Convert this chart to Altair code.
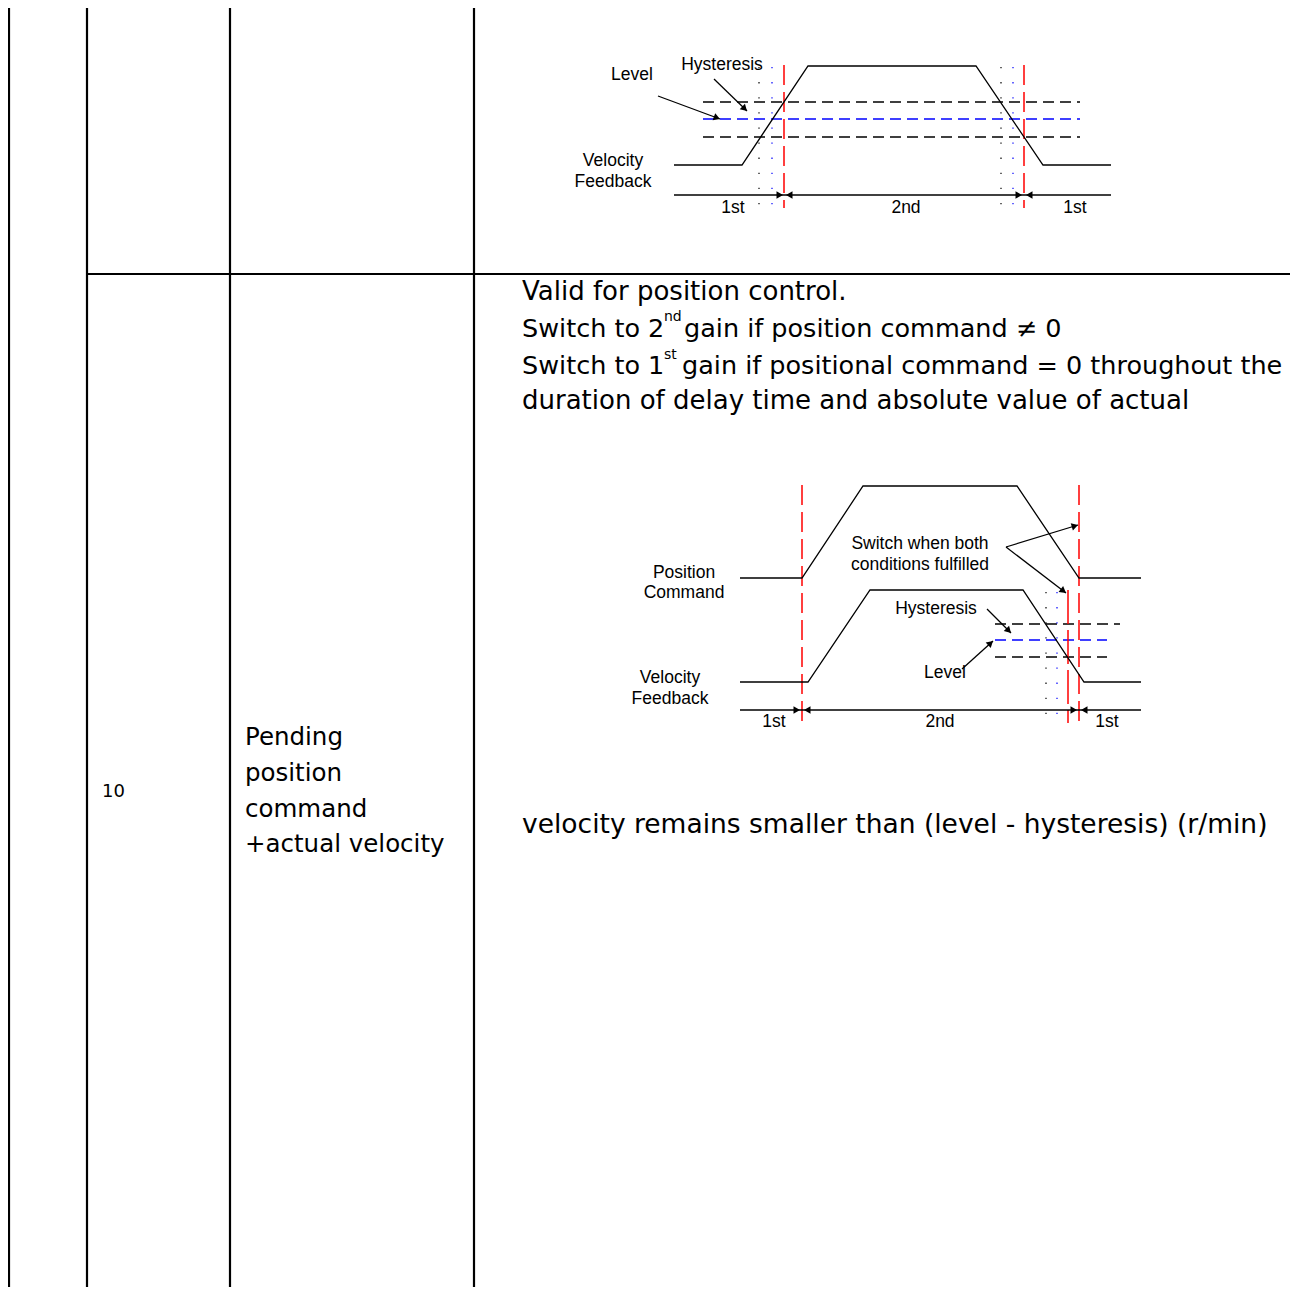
import math
import altair as alt
import pandas as pd

W, H = 1290, 1287   # visible page area (right/bottom) in page pixels
M = 8               # page margin

# ---------------- table grid ----------------
grid_x1 = [9, 87, 230, 474, 87, 87]
grid_y1 = [8, 7, 7, 7, 7, 274]
grid_x2 = [9, 87, 230, 474, 1290, 1290]
grid_y2 = [1287, 1287, 1287, 1287, 7, 274]

# ---------------- document text ----------------
doc_text = ["Valid for position control.",
            "Switch to 2", "nd", "gain if position command \u2260 0",
            "Switch to 1", "st", "gain if positional command = 0 throughout the",
            "duration of delay time and absolute value of actual",
            "velocity remains smaller than (level - hysteresis) (r/min)",
            "10", "Pending", "position", "command", "+actual velocity"]
doc_x = [522, 522, 664, 684, 522, 664, 682, 522, 522, 102, 245, 245, 245, 245]
doc_y = [300, 337, 321, 337, 374, 359, 374, 409, 833, 797, 745, 781, 817, 852]
doc_size = [26, 25.5, 14, 25.5, 25.5, 14, 25.5, 26, 26.5, 18, 24.5, 24.5, 24.5, 24.5]

# ---------------- diagram 1 (top cell) ----------------
d1_wave_x = [674, 742, 808, 976, 1043, 1111]
d1_wave_y = [165, 165, 66, 66, 165, 165]

# ---------------- diagram 2 (pending position command) ----------------
d2_pos_x = [740, 802, 863, 1017, 1079, 1141]
d2_pos_y = [578, 578, 486, 486, 578, 578]
d2_vel_x = [740, 808, 870, 1023, 1084, 1141]
d2_vel_y = [682, 682, 590, 590, 682, 682]

# solid thin segments (timelines + arrow shafts): x1, y1, x2, y2
solid_x1 = [674, 740, 658, 714, 1006, 1006, 987, 962]
solid_y1 = [195, 710, 96, 79, 547, 547, 609, 669]
solid_x2 = [1111, 1141, 720, 747, 1078, 1066, 1011, 993]
solid_y2 = [195, 710, 119, 111, 525, 593, 633, 641]

# dashed black horizontals
bdash_x1 = [703, 703, 995, 995]
bdash_y1 = [102, 137, 624, 657]
bdash_x2 = [1080, 1080, 1120, 1107]

# dashed blue horizontals (level)
udash_x1 = [703, 995]
udash_y1 = [119, 640]
udash_x2 = [1080, 1107]

# red dashed verticals
red_x = [784, 1024, 802, 1079]
red_y1 = [65, 65, 485, 485]
red_y2 = [208, 208, 727, 727]
# red long-dash vertical (velocity condition)
red2_x = [1068]
red2_y1 = [590]
red2_y2 = [723]

# dotted verticals (black, blue)
bdot_x = [759, 1001, 1046]
bdot_y1 = [67, 67, 592]
bdot_y2 = [208, 208, 723]
udot_x = [772, 1013, 1057]
udot_y1 = [67, 67, 592]
udot_y2 = [208, 208, 723]

# arrow heads: tip x, tip y, and the shaft start they point away from
head_tip_x = [783, 786, 1022, 1026, 800, 804, 1077, 1081, 720, 747, 1078, 1066, 1011, 993]
head_tip_y = [195, 195, 195, 195, 710, 710, 710, 710, 119, 111, 525, 593, 633, 641]
head_from_x = [674, 1111, 674, 1111, 740, 1141, 740, 1141, 658, 714, 1006, 1006, 987, 962]
head_from_y = [195, 195, 195, 195, 710, 710, 710, 710, 96, 79, 547, 547, 609, 669]

# diagram labels
lab_text = ["Level", "Hysteresis", "Velocity", "Feedback", "1st", "2nd", "1st",
            "Switch when both", "conditions fulfilled", "Hysteresis", "Level",
            "Position", "Command", "Velocity", "Feedback", "1st", "2nd", "1st"]
lab_x = [632, 722, 613, 613, 733, 906, 1075,
         920, 920, 936, 945, 684, 684, 670, 670, 774, 940, 1107]
lab_y = [75, 65, 161, 182, 208, 208, 208,
         544, 565, 609, 673, 573, 593, 678, 699, 722, 722, 722]

# ---------------- build layers ----------------
xs = alt.Scale(domain=[M, W], nice=False, zero=False)
ys = alt.Scale(domain=[M, H], nice=False, zero=False, reverse=True)


def seg_df(x1, y1, x2, y2):
    return pd.DataFrame({"x": x1, "y": y1, "x2": x2, "y2": y2})


def rules(df, color, width, dash=None):
    kw = dict(color=color, strokeWidth=width)
    if dash is not None:
        kw["strokeDash"] = dash
    return alt.Chart(df).mark_rule(**kw).encode(
        x=alt.X("x:Q", scale=xs, axis=None),
        y=alt.Y("y:Q", scale=ys, axis=None),
        x2="x2:Q",
        y2="y2:Q",
    )


grid = rules(seg_df(grid_x1, grid_y1, grid_x2, grid_y2), "black", 2.2)
solid = rules(seg_df(solid_x1, solid_y1, solid_x2, solid_y2), "black", 1.3)
bdash = rules(seg_df(bdash_x1, bdash_y1, bdash_x2, bdash_y1), "black", 1.3, [11, 6])
udash = rules(seg_df(udash_x1, udash_y1, udash_x2, udash_y1), "#0000ff", 1.3, [11, 6])
red = rules(seg_df(red_x, red_y1, red_x, red_y2), "#ff0000", 1.5, [20, 7])
red2 = rules(seg_df(red2_x, red2_y1, red2_x, red2_y2), "#ff0000", 1.5, [34, 6])
bdot = rules(seg_df(bdot_x, bdot_y1, bdot_x, bdot_y2), "black", 1.2, [1.3, 13.8])
udot = rules(seg_df(udot_x, udot_y1, udot_x, udot_y2), "#0000ff", 1.2, [1.3, 13.8])

wave_rows = []
for wid, (wx, wy) in enumerate([(d1_wave_x, d1_wave_y), (d2_pos_x, d2_pos_y), (d2_vel_x, d2_vel_y)]):
    for i, (a, b) in enumerate(zip(wx, wy)):
        wave_rows.append({"w": wid, "i": i, "x": a, "y": b})
waves = alt.Chart(pd.DataFrame(wave_rows)).mark_line(color="black", strokeWidth=1.3).encode(
    x=alt.X("x:Q", scale=xs, axis=None),
    y=alt.Y("y:Q", scale=ys, axis=None),
    detail="w:N",
    order="i:Q",
)

HEAD_SIZE = 56
h_half = math.sqrt(3) / 2 * math.sqrt(HEAD_SIZE) / 2
head_rows = []
for tx, ty, fx, fy in zip(head_tip_x, head_tip_y, head_from_x, head_from_y):
    ang = math.atan2(ty - fy, tx - fx)
    head_rows.append({
        "x": tx - h_half * math.cos(ang),
        "y": ty - h_half * math.sin(ang),
        "a": math.degrees(ang) % 360,
    })
heads = alt.Chart(pd.DataFrame(head_rows)).mark_point(
    shape="triangle-right", filled=True, color="black", opacity=1, size=HEAD_SIZE, strokeWidth=0
).encode(
    x=alt.X("x:Q", scale=xs, axis=None),
    y=alt.Y("y:Q", scale=ys, axis=None),
    angle=alt.Angle("a:Q", scale=None),
)

labels = alt.Chart(pd.DataFrame({"t": lab_text, "x": lab_x, "y": lab_y})).mark_text(
    font="Liberation Sans", fontSize=17.5, align="center", baseline="middle", color="black"
).encode(
    x=alt.X("x:Q", scale=xs, axis=None),
    y=alt.Y("y:Q", scale=ys, axis=None),
    text="t:N",
)

doc = alt.Chart(pd.DataFrame({"t": doc_text, "x": doc_x, "y": doc_y, "s": doc_size})).mark_text(
    font="DejaVu Sans", align="left", baseline="alphabetic", color="black"
).encode(
    x=alt.X("x:Q", scale=xs, axis=None),
    y=alt.Y("y:Q", scale=ys, axis=None),
    text="t:N",
    size=alt.Size("s:Q", scale=None),
)

chart = alt.layer(
    grid, bdash, udash, bdot, udot, red, red2, solid, waves, heads, labels, doc
).properties(
    width=W - M, height=H - M, padding=0,
    autosize=alt.AutoSizeParams(type="none"),
    background="white",
).configure_view(stroke=None)

chart.save("out.html", embed_options={"renderer": "svg", "actions": False})
